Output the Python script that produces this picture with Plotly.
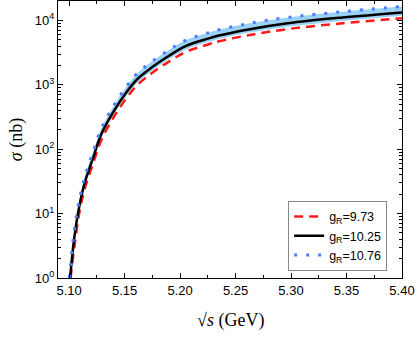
import plotly.graph_objects as go

# sqrt(s) in GeV and cross sections in nb
x_central = [5.1009, 5.1045, 5.1093, 5.1143, 5.1217, 5.1290, 5.1396, 5.1515, 5.1616,
             5.1753, 5.1900, 5.2050, 5.2260, 5.2350, 5.2616, 5.2970, 5.3464, 5.4000]
sigma_1025 = [1.0, 4.0, 13.2, 31, 74, 170, 372, 759, 1230,
              1905, 2820, 3980, 5250, 5820, 7240, 9020, 11090, 13300]

x_low = [5.1013, 5.1045, 5.1093, 5.1143, 5.1217, 5.1290, 5.1396, 5.1515, 5.1616,
         5.1753, 5.1900, 5.2050, 5.2260, 5.2350, 5.2616, 5.2970, 5.3464, 5.4000]
sigma_973 = [1.0, 2.8, 10.5, 25, 60, 138, 302, 617, 1000,
             1550, 2290, 3240, 4270, 4730, 5890, 7330, 9020, 10840]

x_high = [5.1002, 5.1045, 5.1093, 5.1143, 5.1217, 5.1290, 5.1396, 5.1515, 5.1616,
          5.1753, 5.1900, 5.2050, 5.2260, 5.2350, 5.2616, 5.2970, 5.3464, 5.4000]
sigma_1076 = [1.0, 5.2, 16.6, 38, 91, 209, 457, 933, 1510,
              2340, 3470, 4900, 6460, 7160, 8910, 11100, 13650, 16400]

# shaded band around the central curve
band_lo = [1.0, 3.5, 11.6, 27, 64, 150, 328, 668, 1085,
           1680, 2490, 3510, 4640, 5150, 6400, 7980, 9800, 11800]
band_hi = sigma_1076

y_ticks = [1, 10, 100, 1000, 10000]
y_labels = ["10<sup>0</sup>", "10<sup>1</sup>", "10<sup>2</sup>", "10<sup>3</sup>", "10<sup>4</sup>"]
x_ticks = [5.10, 5.15, 5.20, 5.25, 5.30, 5.35, 5.40]
x_labels = ["5.10", "5.15", "5.20", "5.25", "5.30", "5.35", "5.40"]

fig = go.Figure()

fig.add_trace(go.Scatter(x=x_central, y=band_lo, mode="lines", line=dict(width=0, shape="spline"),
                         showlegend=False, hoverinfo="skip"))
fig.add_trace(go.Scatter(x=x_central, y=band_hi, mode="lines", line=dict(width=0, shape="spline"),
                         fill="tonexty", fillcolor="rgba(150,208,242,0.95)",
                         showlegend=False, hoverinfo="skip"))

fig.add_trace(go.Scatter(x=x_low, y=sigma_973, mode="lines", name="g<sub>R</sub>=9.73",
                         line=dict(color="#ff1a1a", width=2.5, dash="9px,6px", shape="spline")))
fig.add_trace(go.Scatter(x=x_central, y=sigma_1025, mode="lines", name="g<sub>R</sub>=10.25",
                         line=dict(color="black", width=2.5, shape="spline")))
fig.add_trace(go.Scatter(x=x_high, y=sigma_1076, mode="lines", name="g<sub>R</sub>=10.76",
                         line=dict(color="#4a7dff", width=3, dash="3px,9px", shape="spline")))

minor_y = [k * 10 ** d for d in range(0, 5) for k in range(2, 10)]

fig.update_layout(
    width=416, height=343,
    margin=dict(l=58, r=14, t=1, b=65),
    plot_bgcolor="white",
    paper_bgcolor="white",
    font=dict(family="Liberation Sans, Arial", size=13, color="black"),
    xaxis=dict(
        range=[5.09, 5.40],
        tickvals=x_ticks, ticktext=x_labels,
        ticks="inside", ticklen=5, tickwidth=1, tickcolor="black",
        showline=True, linecolor="black", linewidth=1.2, mirror="ticks",
        showgrid=False, zeroline=False, automargin=False,
        minor=dict(ticks="inside", ticklen=3, dtick=0.025, tickcolor="black", showgrid=False),
    ),
    yaxis=dict(
        type="log",
        range=[0, 4.301],
        tickvals=y_ticks, ticktext=y_labels,
        ticks="inside", ticklen=5, tickwidth=1, tickcolor="black",
        showline=True, linecolor="black", linewidth=1.2, mirror="ticks",
        showgrid=False, zeroline=False, automargin=False,
        minor=dict(ticks="inside", ticklen=3, tickvals=minor_y, tickcolor="black", showgrid=False),
    ),
    legend=dict(
        x=0.669, y=0.278, xanchor="left", yanchor="top",
        bordercolor="#888888", borderwidth=1, bgcolor="white",
        font=dict(family="Liberation Sans, Arial", size=12.5),
        traceorder="normal", tracegroupgap=0, itemwidth=30,
    ),
)

fig.add_annotation(text="√<i>s</i> (GeV)", xref="paper", yref="paper", x=0.5, y=-0.152,
                   xanchor="center", yanchor="middle", showarrow=False,
                   font=dict(family="Liberation Serif, Times New Roman", size=18))
fig.add_annotation(text="<i>σ</i> (nb)", xref="paper", yref="paper", x=-0.12, y=0.5,
                   xanchor="center", yanchor="middle", showarrow=False, textangle=-90,
                   font=dict(family="Liberation Serif, Times New Roman", size=18))

# page body has a default margin; drop it so the figure sits at the window corner
fig.write_html("out.html", config={"displayModeBar": False},
               post_script="document.body.style.margin='0';")
